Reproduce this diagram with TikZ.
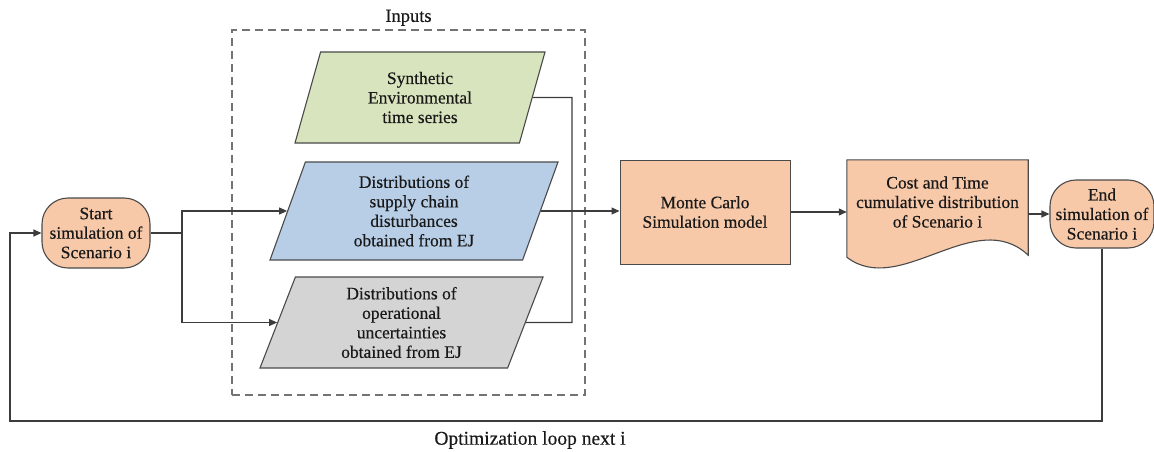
\documentclass[tikz,border=0pt]{standalone}
\usepackage{fontspec}
\setmainfont{Liberation Serif}[FakeBold=0.35]
\usetikzlibrary{shapes.geometric,arrows.meta,calc,backgrounds}
\definecolor{peach}{HTML}{F7C9A9}
\definecolor{sage}{HTML}{D8E4BE}
\definecolor{skyb}{HTML}{B8CDE6}
\definecolor{lgray}{HTML}{D4D4D4}
\definecolor{edge}{HTML}{4A4A4A}
\definecolor{wire}{HTML}{3C3C3C}
\begin{document}
\begin{tikzpicture}[x=1pt,y=-1pt,
  txt/.style={font=\fontsize{17.5}{19.5}\selectfont, align=center, text=black!90},
  term/.style={txt, draw=edge, line width=1.1pt, fill=peach, rectangle,
    rounded corners=26pt, minimum width=108pt, minimum height=70pt, inner sep=1pt},
  datain/.style={txt, draw=edge, line width=1.1pt, trapezium,
    trapezium left angle=63.5, trapezium right angle=116.5,
    trapezium stretches body, inner sep=0pt},
  procbox/.style={txt, draw=edge, line width=1pt, fill=peach,
    minimum width=170pt, minimum height=104pt},
  wireline/.style={draw=wire, line width=1.1pt},
  arr/.style={wireline, -{Triangle[length=8pt,width=7pt]}}
]
\useasboundingbox (0,0) rectangle (1154,452);

% input group
\node[draw=black!55, line width=1.3pt, dash pattern=on 8pt off 5pt,
  minimum width=353pt, minimum height=365pt] (inbox) at (408.5,212.5) {};
\node[txt, font=\fontsize{18.5}{20}\selectfont, above=0pt] (inlabel) at (inbox.north) {Inputs};

% terminals
\node[term] (start) at (96,233) {Start\\simulation of\\Scenario i};
\node[term, minimum width=104pt, minimum height=68pt] (end) at (1102,214) {End\\simulation of\\Scenario i};

% input data
\node[datain, fill=sage, minimum width=250pt, minimum height=91pt] (green) at (420,97.5)
  {Synthetic\\Environmental\\time series};
\node[datain, fill=skyb, minimum width=288pt, minimum height=98pt] (blue) at (414,211)
  {Distributions of\\supply chain\\disturbances\\obtained from EJ};
\node[datain, fill=lgray, minimum width=283pt, minimum height=91pt] (gray) at (401.5,322.5)
  {Distributions of\\operational\\uncertainties\\obtained from EJ};

% model
\node[procbox] (mc) at (705,212) {Monte Carlo\\Simulation model};

% output document
\node[txt, minimum width=181pt, minimum height=84pt, inner sep=0pt] (doc) at (937.5,202)
  {Cost and Time\\cumulative distribution\\of Scenario i};
\begin{scope}[on background layer]
  \filldraw[draw=edge, line width=1.1pt, fill=peach]
    (doc.north west) -- (doc.north east) -- ($(doc.south east)+(0,11)$)
    .. controls ($(doc.south east)+(-53,-39)$) and ($(doc.south west)+(53,54)$) ..
    ($(doc.south west)+(0,13)$) -- cycle;
\end{scope}

% flow
\coordinate (split) at (182,233);
\draw[wireline] (start.east) -- (split);
\draw[arr] (split) |- (blue.west);
\draw[arr] (split) |- (gray.west);

\coordinate (bus) at (572,97.5);
\draw[wireline] (green.east) -- (bus) |- (gray.east);

\draw[arr] (blue.east) -- (mc.west |- blue.east);
\draw[arr] (mc.east) -- (mc.east -| doc.west);
\draw[arr] (end.west -| doc.east) -- (end.west);

% optimisation loop
\coordinate (loopcorner) at (10,421);
\draw[arr] (end.south) |- (loopcorner) |- (start.west);
\node[txt, font=\fontsize{19.5}{21}\selectfont] (looplabel) at (530,440) {Optimization loop next i};
\end{tikzpicture}
\end{document}
